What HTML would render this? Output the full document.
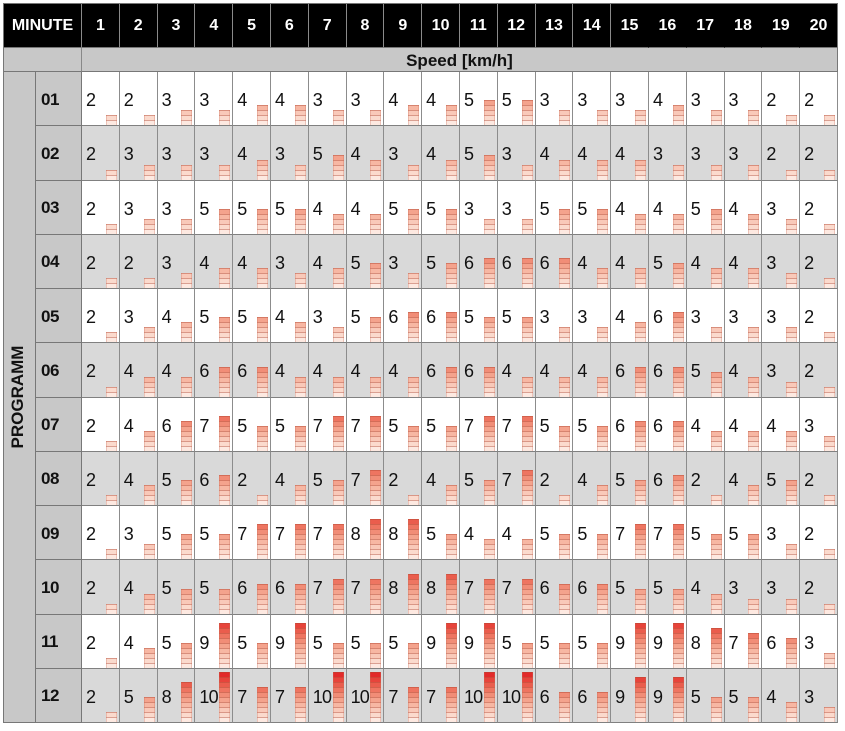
<!DOCTYPE html>
<html><head><meta charset="utf-8"><style>
*{margin:0;padding:0;box-sizing:border-box}
html,body{width:845px;height:731px;background:#fff;overflow:hidden}
body{font-family:"Liberation Sans",Arial,sans-serif;position:relative}
.t{position:absolute;left:3px;top:3px;border-left:1px solid #777;border-top:1px solid #777;box-sizing:content-box;width:834px;height:719px;display:grid;grid-template-columns:32px 46px repeat(20,37.8px);grid-template-rows:44px 24px repeat(12,54.25px)}
.h{background:#000;color:#fff;font-weight:bold;font-size:16px;display:flex;align-items:center;justify-content:center;border-right:1px solid #8a8a8a;border-bottom:1px solid #777}
.h.n{border-right:1px solid #000}
.h.e{border-right:1px solid #777}
.hm{grid-column:1/3}
.s0{grid-column:1/3;background:#c8c8c8;border-right:1px solid #888;border-bottom:1px solid #777}
.s1{grid-column:3/23;background:#c8c8c8;border-right:1px solid #777;border-bottom:1px solid #777;font-weight:bold;font-size:17px;display:flex;align-items:center;justify-content:center;color:#111;padding-top:2px}
.p{grid-column:1;grid-row:3/15;background:#c8c8c8;border-right:1px solid #777;border-bottom:1px solid #777;position:relative}
.p span{position:absolute;left:50%;top:50%;transform:translate(-50%,-50%) rotate(-90deg);font-weight:bold;font-size:17px;color:#111;white-space:nowrap;margin-left:-2px}
.l{background:#c8c8c8;border-right:1px solid #777;border-bottom:1px solid #777;font-weight:bold;font-size:17px;letter-spacing:-0.5px;color:#111;display:flex;align-items:center;padding-left:5px;padding-top:2px}
.c{position:relative;background:#fff;border-right:1px solid #8c8c8c;border-bottom:1px solid #808080}
.c.g{background:#d9d9d9}
.c span{position:absolute;left:4px;top:calc(50% - 8.5px);line-height:20px;font-size:18px;color:#111;letter-spacing:-0.8px}
.c i{position:absolute;right:2px;bottom:0;width:11px;display:block;
background:repeating-linear-gradient(to bottom,rgba(175,70,50,.45) 0 1px,transparent 1px 5px),
linear-gradient(to top,#fde9e1 0 5px,#fbdacd 5px 10px,#f9c9b9 10px 15px,#f7b7a3 15px 20px,#f4a38d 20px 25px,#f18d77 25px 30px,#ee7561 30px 35px,#ea5d4d 35px 40px,#e7443b 40px 45px,#e22a2a 45px 50px) left bottom/100% 50px no-repeat;
box-shadow:inset 1px 0 rgba(200,110,90,.3),inset -1px 0 rgba(200,110,90,.3)}
</style></head><body>
<div class="t">
<div class="h hm">MINUTE</div>
<div class="h">1</div><div class="h">2</div><div class="h">3</div><div class="h">4</div><div class="h">5</div><div class="h">6</div><div class="h">7</div><div class="h">8</div><div class="h">9</div><div class="h">10</div><div class="h">11</div><div class="h">12</div><div class="h">13</div><div class="h">14</div><div class="h n">15</div><div class="h n">16</div><div class="h n">17</div><div class="h n">18</div><div class="h n">19</div><div class="h e">20</div>
<div class="s0"></div><div class="s1">Speed [km/h]</div>
<div class="p"><span>PROGRAMM</span></div>

<div class="l">01</div>
<div class="c"><span>2</span><i style="height:10px"></i></div><div class="c"><span>2</span><i style="height:10px"></i></div><div class="c"><span>3</span><i style="height:15px"></i></div><div class="c"><span>3</span><i style="height:15px"></i></div><div class="c"><span>4</span><i style="height:20px"></i></div><div class="c"><span>4</span><i style="height:20px"></i></div><div class="c"><span>3</span><i style="height:15px"></i></div><div class="c"><span>3</span><i style="height:15px"></i></div><div class="c"><span>4</span><i style="height:20px"></i></div><div class="c"><span>4</span><i style="height:20px"></i></div><div class="c"><span>5</span><i style="height:25px"></i></div><div class="c"><span>5</span><i style="height:25px"></i></div><div class="c"><span>3</span><i style="height:15px"></i></div><div class="c"><span>3</span><i style="height:15px"></i></div><div class="c"><span>3</span><i style="height:15px"></i></div><div class="c"><span>4</span><i style="height:20px"></i></div><div class="c"><span>3</span><i style="height:15px"></i></div><div class="c"><span>3</span><i style="height:15px"></i></div><div class="c"><span>2</span><i style="height:10px"></i></div><div class="c"><span>2</span><i style="height:10px"></i></div>

<div class="l">02</div>
<div class="c g"><span>2</span><i style="height:10px"></i></div><div class="c g"><span>3</span><i style="height:15px"></i></div><div class="c g"><span>3</span><i style="height:15px"></i></div><div class="c g"><span>3</span><i style="height:15px"></i></div><div class="c g"><span>4</span><i style="height:20px"></i></div><div class="c g"><span>3</span><i style="height:15px"></i></div><div class="c g"><span>5</span><i style="height:25px"></i></div><div class="c g"><span>4</span><i style="height:20px"></i></div><div class="c g"><span>3</span><i style="height:15px"></i></div><div class="c g"><span>4</span><i style="height:20px"></i></div><div class="c g"><span>5</span><i style="height:25px"></i></div><div class="c g"><span>3</span><i style="height:15px"></i></div><div class="c g"><span>4</span><i style="height:20px"></i></div><div class="c g"><span>4</span><i style="height:20px"></i></div><div class="c g"><span>4</span><i style="height:20px"></i></div><div class="c g"><span>3</span><i style="height:15px"></i></div><div class="c g"><span>3</span><i style="height:15px"></i></div><div class="c g"><span>3</span><i style="height:15px"></i></div><div class="c g"><span>2</span><i style="height:10px"></i></div><div class="c g"><span>2</span><i style="height:10px"></i></div>

<div class="l">03</div>
<div class="c"><span>2</span><i style="height:10px"></i></div><div class="c"><span>3</span><i style="height:15px"></i></div><div class="c"><span>3</span><i style="height:15px"></i></div><div class="c"><span>5</span><i style="height:25px"></i></div><div class="c"><span>5</span><i style="height:25px"></i></div><div class="c"><span>5</span><i style="height:25px"></i></div><div class="c"><span>4</span><i style="height:20px"></i></div><div class="c"><span>4</span><i style="height:20px"></i></div><div class="c"><span>5</span><i style="height:25px"></i></div><div class="c"><span>5</span><i style="height:25px"></i></div><div class="c"><span>3</span><i style="height:15px"></i></div><div class="c"><span>3</span><i style="height:15px"></i></div><div class="c"><span>5</span><i style="height:25px"></i></div><div class="c"><span>5</span><i style="height:25px"></i></div><div class="c"><span>4</span><i style="height:20px"></i></div><div class="c"><span>4</span><i style="height:20px"></i></div><div class="c"><span>5</span><i style="height:25px"></i></div><div class="c"><span>4</span><i style="height:20px"></i></div><div class="c"><span>3</span><i style="height:15px"></i></div><div class="c"><span>2</span><i style="height:10px"></i></div>

<div class="l">04</div>
<div class="c g"><span>2</span><i style="height:10px"></i></div><div class="c g"><span>2</span><i style="height:10px"></i></div><div class="c g"><span>3</span><i style="height:15px"></i></div><div class="c g"><span>4</span><i style="height:20px"></i></div><div class="c g"><span>4</span><i style="height:20px"></i></div><div class="c g"><span>3</span><i style="height:15px"></i></div><div class="c g"><span>4</span><i style="height:20px"></i></div><div class="c g"><span>5</span><i style="height:25px"></i></div><div class="c g"><span>3</span><i style="height:15px"></i></div><div class="c g"><span>5</span><i style="height:25px"></i></div><div class="c g"><span>6</span><i style="height:30px"></i></div><div class="c g"><span>6</span><i style="height:30px"></i></div><div class="c g"><span>6</span><i style="height:30px"></i></div><div class="c g"><span>4</span><i style="height:20px"></i></div><div class="c g"><span>4</span><i style="height:20px"></i></div><div class="c g"><span>5</span><i style="height:25px"></i></div><div class="c g"><span>4</span><i style="height:20px"></i></div><div class="c g"><span>4</span><i style="height:20px"></i></div><div class="c g"><span>3</span><i style="height:15px"></i></div><div class="c g"><span>2</span><i style="height:10px"></i></div>

<div class="l">05</div>
<div class="c"><span>2</span><i style="height:10px"></i></div><div class="c"><span>3</span><i style="height:15px"></i></div><div class="c"><span>4</span><i style="height:20px"></i></div><div class="c"><span>5</span><i style="height:25px"></i></div><div class="c"><span>5</span><i style="height:25px"></i></div><div class="c"><span>4</span><i style="height:20px"></i></div><div class="c"><span>3</span><i style="height:15px"></i></div><div class="c"><span>5</span><i style="height:25px"></i></div><div class="c"><span>6</span><i style="height:30px"></i></div><div class="c"><span>6</span><i style="height:30px"></i></div><div class="c"><span>5</span><i style="height:25px"></i></div><div class="c"><span>5</span><i style="height:25px"></i></div><div class="c"><span>3</span><i style="height:15px"></i></div><div class="c"><span>3</span><i style="height:15px"></i></div><div class="c"><span>4</span><i style="height:20px"></i></div><div class="c"><span>6</span><i style="height:30px"></i></div><div class="c"><span>3</span><i style="height:15px"></i></div><div class="c"><span>3</span><i style="height:15px"></i></div><div class="c"><span>3</span><i style="height:15px"></i></div><div class="c"><span>2</span><i style="height:10px"></i></div>

<div class="l">06</div>
<div class="c g"><span>2</span><i style="height:10px"></i></div><div class="c g"><span>4</span><i style="height:20px"></i></div><div class="c g"><span>4</span><i style="height:20px"></i></div><div class="c g"><span>6</span><i style="height:30px"></i></div><div class="c g"><span>6</span><i style="height:30px"></i></div><div class="c g"><span>4</span><i style="height:20px"></i></div><div class="c g"><span>4</span><i style="height:20px"></i></div><div class="c g"><span>4</span><i style="height:20px"></i></div><div class="c g"><span>4</span><i style="height:20px"></i></div><div class="c g"><span>6</span><i style="height:30px"></i></div><div class="c g"><span>6</span><i style="height:30px"></i></div><div class="c g"><span>4</span><i style="height:20px"></i></div><div class="c g"><span>4</span><i style="height:20px"></i></div><div class="c g"><span>4</span><i style="height:20px"></i></div><div class="c g"><span>6</span><i style="height:30px"></i></div><div class="c g"><span>6</span><i style="height:30px"></i></div><div class="c g"><span>5</span><i style="height:25px"></i></div><div class="c g"><span>4</span><i style="height:20px"></i></div><div class="c g"><span>3</span><i style="height:15px"></i></div><div class="c g"><span>2</span><i style="height:10px"></i></div>

<div class="l">07</div>
<div class="c"><span>2</span><i style="height:10px"></i></div><div class="c"><span>4</span><i style="height:20px"></i></div><div class="c"><span>6</span><i style="height:30px"></i></div><div class="c"><span>7</span><i style="height:35px"></i></div><div class="c"><span>5</span><i style="height:25px"></i></div><div class="c"><span>5</span><i style="height:25px"></i></div><div class="c"><span>7</span><i style="height:35px"></i></div><div class="c"><span>7</span><i style="height:35px"></i></div><div class="c"><span>5</span><i style="height:25px"></i></div><div class="c"><span>5</span><i style="height:25px"></i></div><div class="c"><span>7</span><i style="height:35px"></i></div><div class="c"><span>7</span><i style="height:35px"></i></div><div class="c"><span>5</span><i style="height:25px"></i></div><div class="c"><span>5</span><i style="height:25px"></i></div><div class="c"><span>6</span><i style="height:30px"></i></div><div class="c"><span>6</span><i style="height:30px"></i></div><div class="c"><span>4</span><i style="height:20px"></i></div><div class="c"><span>4</span><i style="height:20px"></i></div><div class="c"><span>4</span><i style="height:20px"></i></div><div class="c"><span>3</span><i style="height:15px"></i></div>

<div class="l">08</div>
<div class="c g"><span>2</span><i style="height:10px"></i></div><div class="c g"><span>4</span><i style="height:20px"></i></div><div class="c g"><span>5</span><i style="height:25px"></i></div><div class="c g"><span>6</span><i style="height:30px"></i></div><div class="c g"><span>2</span><i style="height:10px"></i></div><div class="c g"><span>4</span><i style="height:20px"></i></div><div class="c g"><span>5</span><i style="height:25px"></i></div><div class="c g"><span>7</span><i style="height:35px"></i></div><div class="c g"><span>2</span><i style="height:10px"></i></div><div class="c g"><span>4</span><i style="height:20px"></i></div><div class="c g"><span>5</span><i style="height:25px"></i></div><div class="c g"><span>7</span><i style="height:35px"></i></div><div class="c g"><span>2</span><i style="height:10px"></i></div><div class="c g"><span>4</span><i style="height:20px"></i></div><div class="c g"><span>5</span><i style="height:25px"></i></div><div class="c g"><span>6</span><i style="height:30px"></i></div><div class="c g"><span>2</span><i style="height:10px"></i></div><div class="c g"><span>4</span><i style="height:20px"></i></div><div class="c g"><span>5</span><i style="height:25px"></i></div><div class="c g"><span>2</span><i style="height:10px"></i></div>

<div class="l">09</div>
<div class="c"><span>2</span><i style="height:10px"></i></div><div class="c"><span>3</span><i style="height:15px"></i></div><div class="c"><span>5</span><i style="height:25px"></i></div><div class="c"><span>5</span><i style="height:25px"></i></div><div class="c"><span>7</span><i style="height:35px"></i></div><div class="c"><span>7</span><i style="height:35px"></i></div><div class="c"><span>7</span><i style="height:35px"></i></div><div class="c"><span>8</span><i style="height:40px"></i></div><div class="c"><span>8</span><i style="height:40px"></i></div><div class="c"><span>5</span><i style="height:25px"></i></div><div class="c"><span>4</span><i style="height:20px"></i></div><div class="c"><span>4</span><i style="height:20px"></i></div><div class="c"><span>5</span><i style="height:25px"></i></div><div class="c"><span>5</span><i style="height:25px"></i></div><div class="c"><span>7</span><i style="height:35px"></i></div><div class="c"><span>7</span><i style="height:35px"></i></div><div class="c"><span>5</span><i style="height:25px"></i></div><div class="c"><span>5</span><i style="height:25px"></i></div><div class="c"><span>3</span><i style="height:15px"></i></div><div class="c"><span>2</span><i style="height:10px"></i></div>

<div class="l">10</div>
<div class="c g"><span>2</span><i style="height:10px"></i></div><div class="c g"><span>4</span><i style="height:20px"></i></div><div class="c g"><span>5</span><i style="height:25px"></i></div><div class="c g"><span>5</span><i style="height:25px"></i></div><div class="c g"><span>6</span><i style="height:30px"></i></div><div class="c g"><span>6</span><i style="height:30px"></i></div><div class="c g"><span>7</span><i style="height:35px"></i></div><div class="c g"><span>7</span><i style="height:35px"></i></div><div class="c g"><span>8</span><i style="height:40px"></i></div><div class="c g"><span>8</span><i style="height:40px"></i></div><div class="c g"><span>7</span><i style="height:35px"></i></div><div class="c g"><span>7</span><i style="height:35px"></i></div><div class="c g"><span>6</span><i style="height:30px"></i></div><div class="c g"><span>6</span><i style="height:30px"></i></div><div class="c g"><span>5</span><i style="height:25px"></i></div><div class="c g"><span>5</span><i style="height:25px"></i></div><div class="c g"><span>4</span><i style="height:20px"></i></div><div class="c g"><span>3</span><i style="height:15px"></i></div><div class="c g"><span>3</span><i style="height:15px"></i></div><div class="c g"><span>2</span><i style="height:10px"></i></div>

<div class="l">11</div>
<div class="c"><span>2</span><i style="height:10px"></i></div><div class="c"><span>4</span><i style="height:20px"></i></div><div class="c"><span>5</span><i style="height:25px"></i></div><div class="c"><span>9</span><i style="height:45px"></i></div><div class="c"><span>5</span><i style="height:25px"></i></div><div class="c"><span>9</span><i style="height:45px"></i></div><div class="c"><span>5</span><i style="height:25px"></i></div><div class="c"><span>5</span><i style="height:25px"></i></div><div class="c"><span>5</span><i style="height:25px"></i></div><div class="c"><span>9</span><i style="height:45px"></i></div><div class="c"><span>9</span><i style="height:45px"></i></div><div class="c"><span>5</span><i style="height:25px"></i></div><div class="c"><span>5</span><i style="height:25px"></i></div><div class="c"><span>5</span><i style="height:25px"></i></div><div class="c"><span>9</span><i style="height:45px"></i></div><div class="c"><span>9</span><i style="height:45px"></i></div><div class="c"><span>8</span><i style="height:40px"></i></div><div class="c"><span>7</span><i style="height:35px"></i></div><div class="c"><span>6</span><i style="height:30px"></i></div><div class="c"><span>3</span><i style="height:15px"></i></div>

<div class="l">12</div>
<div class="c g"><span>2</span><i style="height:10px"></i></div><div class="c g"><span>5</span><i style="height:25px"></i></div><div class="c g"><span>8</span><i style="height:40px"></i></div><div class="c g"><span>10</span><i style="height:50px"></i></div><div class="c g"><span>7</span><i style="height:35px"></i></div><div class="c g"><span>7</span><i style="height:35px"></i></div><div class="c g"><span>10</span><i style="height:50px"></i></div><div class="c g"><span>10</span><i style="height:50px"></i></div><div class="c g"><span>7</span><i style="height:35px"></i></div><div class="c g"><span>7</span><i style="height:35px"></i></div><div class="c g"><span>10</span><i style="height:50px"></i></div><div class="c g"><span>10</span><i style="height:50px"></i></div><div class="c g"><span>6</span><i style="height:30px"></i></div><div class="c g"><span>6</span><i style="height:30px"></i></div><div class="c g"><span>9</span><i style="height:45px"></i></div><div class="c g"><span>9</span><i style="height:45px"></i></div><div class="c g"><span>5</span><i style="height:25px"></i></div><div class="c g"><span>5</span><i style="height:25px"></i></div><div class="c g"><span>4</span><i style="height:20px"></i></div><div class="c g"><span>3</span><i style="height:15px"></i></div>
</div>
</body></html>
